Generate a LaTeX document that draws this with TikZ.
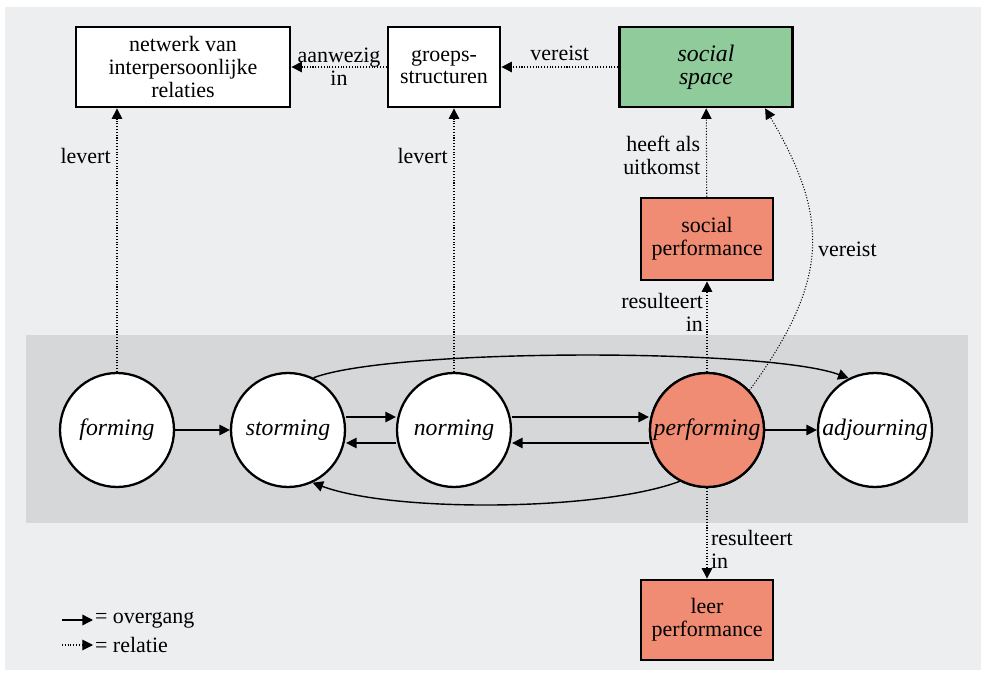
\documentclass[tikz,border=0pt]{standalone}
\usepackage{fontspec}
\setmainfont{Liberation Serif}
\usetikzlibrary{arrows.meta}
\definecolor{bgcol}{HTML}{EDEEEF}
\definecolor{bandcol}{HTML}{D5D7D8}
\definecolor{spacecol}{HTML}{8FCB9B}
\definecolor{perfcol}{HTML}{F08C73}

\begin{document}
\begin{tikzpicture}[x=0.02cm, y=-0.02cm,
  font=\fontsize{12.5}{13}\selectfont,
  box/.style={draw, line width=1.6pt, fill=white, align=center, minimum height=1.6cm, inner sep=2pt},
  stage/.style={draw, circle, line width=1.3pt, fill=white, minimum size=2.28cm, inner sep=0pt, font=\fontsize{13.5}{13.5}\selectfont\itshape},
  trans/.style={line width=.8pt, -{Triangle[length=6pt,width=6pt]}},
  rel/.style={line width=.6pt, densely dotted, -{Triangle[length=6pt,width=6pt]}}]
\useasboundingbox (0,0) rectangle (987,675);
\fill[bgcol] (5,7) rectangle (981,670);
\fill[bandcol] (26,335) rectangle (968,523);

% boxes
\node[box, minimum width=4.28cm] (netwerk) at (183,67) {netwerk van\\interpersoonlijke\\relaties};
\node[box, minimum width=2.24cm] (groeps) at (444,67) {groeps-\\structuren};
\node[box, minimum width=3.46cm, fill=spacecol, font=\fontsize{13.5}{13}\selectfont\itshape] (space) at (706,67) {social\\space};
\node[box, minimum width=2.64cm, minimum height=1.64cm, fill=perfcol] (socperf) at (707,239) {social\\performance};
\node[box, minimum width=2.64cm, fill=perfcol] (leerperf) at (707,620) {leer\\performance};

% stages
\foreach \n/\x in {forming/117, storming/288, norming/454, performing/707, adjourning/875}
  \node[stage] (\n) at (\x,430) {\n};
\node[stage, fill=perfcol] at (performing) {performing};

% overgangen
\draw[trans] (forming) -- (storming);
\draw[trans] (performing) -- (adjourning);
\draw[trans] (storming.east |- 0,417) -- (norming.west |- 0,417);
\draw[trans] (norming.west |- 0,443) -- (storming.east |- 0,443);
\draw[trans] (norming.east |- 0,417) -- (performing.west |- 0,417);
\draw[trans] (performing.west |- 0,443) -- (norming.east |- 0,443);
\draw[trans] (storming.64) .. controls +(80,-30) and +(-80,-30) .. (adjourning.117);
\draw[trans] (performing.-118) .. controls +(-80,30) and +(80,30) .. (storming.-65);

% relaties
\draw[rel] (forming.north) -- (forming.north |- netwerk.south) node[pos=.82, left] {levert};
\draw[rel] (norming.north) -- (norming.north |- groeps.south) node[pos=.82, left] {levert};
\draw[rel] (groeps) -- (netwerk) node[midway, align=center, inner sep=1pt] {aanwezig\\in};
\draw[rel] (space) -- (groeps) node[midway, above] {vereist};
\draw[rel] (socperf) -- (space) node[pos=.47, left, align=right] {heeft als\\uitkomst};
\draw[rel] (performing) -- (socperf) node[pos=.66, left, align=right, inner sep=2pt] {resulteert\\in};
\draw[rel] (performing) -- (leerperf) node[pos=.68, right, align=left, inner sep=2pt] {resulteert\\in};
\draw[rel] (performing.43) .. controls +(80,-110) and +(65,110) .. (space.-35) node[pos=.5, right] {vereist};

% legenda
\coordinate (leg1) at (62,620);
\coordinate (leg2) at (62,645);
\node[right, inner sep=1pt] (overgang) at (93,620) {= overgang};
\node[right, inner sep=1pt] (relatie) at (93,645) {= relatie};
\draw[trans] (leg1) -- (overgang.west);
\draw[rel] (leg2) -- (relatie.west);
\end{tikzpicture}
\end{document}
